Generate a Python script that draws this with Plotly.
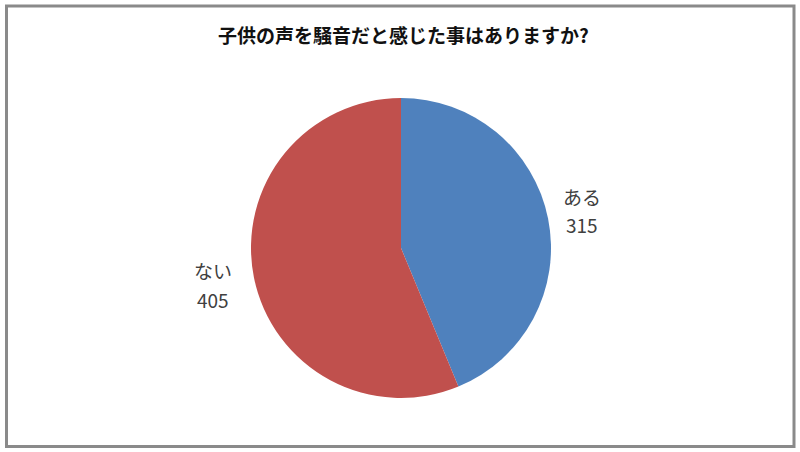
import plotly.graph_objects as go

title_text = "子供の声を騒音だと感じた事はありますか?"
labels = ["ある", "ない"]
values = [315, 405]
colors = ["#4F81BD", "#C0504D"]

fig = go.Figure(go.Pie(
    labels=labels,
    values=values,
    marker=dict(colors=colors, line=dict(width=0)),
    sort=False,
    direction="clockwise",
    rotation=0,
    textinfo="none",
    hoverinfo="label+value",
    showlegend=False,
    domain=dict(x=[251 / 800, 551 / 800], y=[54 / 452, 354 / 452]),
))

# data labels placed outside the slices (name line and value line)
label_pos = [(582, 196, 225), (213, 270, 299)]
lab_font = dict(family="Noto Sans CJK JP", size=19, color="#404040")
for (lx, ly1, ly2), lab, val in zip(label_pos, labels, values):
    fig.add_annotation(x=lx / 800, y=1 - ly1 / 452, xref="paper", yref="paper",
                       xanchor="center", yanchor="middle",
                       text=lab, showarrow=False, font=lab_font)
    fig.add_annotation(x=lx / 800, y=1 - ly2 / 452, xref="paper", yref="paper",
                       xanchor="center", yanchor="middle",
                       text=str(val), showarrow=False, font=lab_font)

fig.add_annotation(
    x=403 / 800, y=1 - 35 / 452, xref="paper", yref="paper",
    xanchor="center", yanchor="middle",
    text=f"<b>{title_text}</b>", showarrow=False,
    font=dict(family="Noto Sans CJK JP", size=19, color="#111111"),
)

# chart border
fig.add_shape(type="rect", xref="paper", yref="paper",
              x0=6.5 / 800, x1=794 / 800, y0=1 - 446.5 / 452, y1=1 - 6 / 452,
              line=dict(color="#8a8a8a", width=3))

fig.update_layout(
    width=800, height=452,
    margin=dict(l=0, r=0, t=0, b=0),
    paper_bgcolor="white",
    plot_bgcolor="white",
)

fig.write_html("out.html", config={"displayModeBar": False},
               post_script="document.body.style.margin='0';")
